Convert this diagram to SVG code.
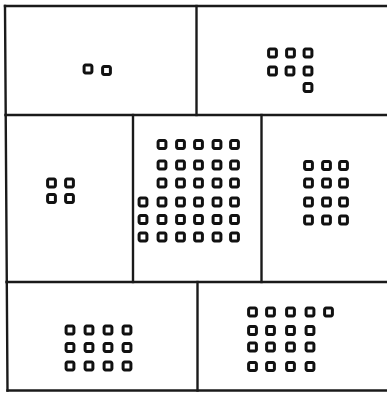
<svg xmlns="http://www.w3.org/2000/svg" xmlns:xlink="http://www.w3.org/1999/xlink" width="387" height="394" viewBox="0 0 387 394">
<style>
.ln{stroke:#1a1a1a;stroke-width:2.4;fill:none;stroke-linecap:square}
.sq{fill:#fff;stroke:#111;stroke-width:3}
</style>
<defs>
<rect id="s" x="-3.9" y="-3.9" width="7.8" height="7.8" rx="1.4"/>
</defs>
<rect width="387" height="394" fill="#fff"/>
<g id="frame">
<line class="ln" x1="5" y1="6" x2="387" y2="6"/>
<line class="ln" x1="5" y1="6" x2="7.5" y2="390.5"/>
<line class="ln" x1="7.5" y1="390.5" x2="387" y2="390.5"/>
<line class="ln" x1="5.5" y1="115" x2="387" y2="115"/>
<line class="ln" x1="6.5" y1="282" x2="387" y2="282"/>
<line class="ln" x1="196.5" y1="6" x2="196.5" y2="115"/>
<line class="ln" x1="133" y1="115" x2="133" y2="282"/>
<line class="ln" x1="261.5" y1="115" x2="261.5" y2="282"/>
<line class="ln" x1="197.5" y1="282" x2="197.5" y2="390.5"/>
</g>
<g id="cell-top-left" class="sq">
<use xlink:href="#s" x="88" y="69"/><use xlink:href="#s" x="106.5" y="70.5"/>
</g>
<g id="cell-top-right" class="sq">
<use xlink:href="#s" x="272.5" y="53"/><use xlink:href="#s" x="290.5" y="53"/><use xlink:href="#s" x="308" y="53"/>
<use xlink:href="#s" x="272.5" y="71"/><use xlink:href="#s" x="290" y="71"/><use xlink:href="#s" x="308" y="71"/>
<use xlink:href="#s" x="308" y="87.5"/>
</g>
<g id="cell-middle-left" class="sq">
<use xlink:href="#s" x="51.5" y="183"/><use xlink:href="#s" x="69.5" y="183"/>
<use xlink:href="#s" x="51.5" y="198.5"/><use xlink:href="#s" x="69.5" y="198.5"/>
</g>
<g id="cell-middle-center" class="sq">
<use xlink:href="#s" x="162" y="144.5"/><use xlink:href="#s" x="180.5" y="144.5"/><use xlink:href="#s" x="198.5" y="144.5"/><use xlink:href="#s" x="217" y="144.5"/><use xlink:href="#s" x="234.5" y="144.5"/>
<use xlink:href="#s" x="162" y="165"/><use xlink:href="#s" x="180.5" y="165"/><use xlink:href="#s" x="198.5" y="165"/><use xlink:href="#s" x="217" y="165"/><use xlink:href="#s" x="234.5" y="165"/>
<use xlink:href="#s" x="162" y="183"/><use xlink:href="#s" x="180.5" y="183"/><use xlink:href="#s" x="198.5" y="183"/><use xlink:href="#s" x="217" y="183"/><use xlink:href="#s" x="234.5" y="183"/>
<use xlink:href="#s" x="143" y="202"/><use xlink:href="#s" x="162" y="202"/><use xlink:href="#s" x="180.5" y="202"/><use xlink:href="#s" x="198.5" y="202"/><use xlink:href="#s" x="217" y="202"/><use xlink:href="#s" x="234.5" y="202"/>
<use xlink:href="#s" x="143" y="219.5"/><use xlink:href="#s" x="162" y="219.5"/><use xlink:href="#s" x="180.5" y="219.5"/><use xlink:href="#s" x="198.5" y="219.5"/><use xlink:href="#s" x="217" y="219.5"/><use xlink:href="#s" x="234.5" y="219.5"/>
<use xlink:href="#s" x="143" y="237"/><use xlink:href="#s" x="162" y="237"/><use xlink:href="#s" x="180.5" y="237"/><use xlink:href="#s" x="198.5" y="237"/><use xlink:href="#s" x="217" y="237"/><use xlink:href="#s" x="234.5" y="237"/>
</g>
<g id="cell-middle-right" class="sq">
<use xlink:href="#s" x="308.5" y="165.5"/><use xlink:href="#s" x="326.5" y="165.5"/><use xlink:href="#s" x="343.5" y="165.5"/>
<use xlink:href="#s" x="308.5" y="183"/><use xlink:href="#s" x="326.5" y="183"/><use xlink:href="#s" x="343.5" y="183"/>
<use xlink:href="#s" x="308.5" y="202"/><use xlink:href="#s" x="326.5" y="202"/><use xlink:href="#s" x="343.5" y="202"/>
<use xlink:href="#s" x="308.5" y="220"/><use xlink:href="#s" x="326.5" y="220"/><use xlink:href="#s" x="343.5" y="220"/>
</g>
<g id="cell-bottom-left" class="sq">
<use xlink:href="#s" x="70" y="330"/><use xlink:href="#s" x="89" y="330"/><use xlink:href="#s" x="108" y="330"/><use xlink:href="#s" x="127" y="330"/>
<use xlink:href="#s" x="70" y="347.5"/><use xlink:href="#s" x="89" y="347.5"/><use xlink:href="#s" x="108" y="347.5"/><use xlink:href="#s" x="127" y="347.5"/>
<use xlink:href="#s" x="70" y="366"/><use xlink:href="#s" x="89" y="366"/><use xlink:href="#s" x="108" y="366"/><use xlink:href="#s" x="127" y="366"/>
</g>
<g id="cell-bottom-right" class="sq">
<use xlink:href="#s" x="252.5" y="312"/><use xlink:href="#s" x="270.5" y="312"/><use xlink:href="#s" x="290.5" y="312"/><use xlink:href="#s" x="310" y="312"/><use xlink:href="#s" x="328.5" y="312"/>
<use xlink:href="#s" x="252.5" y="330.5"/><use xlink:href="#s" x="270.5" y="330.5"/><use xlink:href="#s" x="290.5" y="330.5"/><use xlink:href="#s" x="310" y="330.5"/>
<use xlink:href="#s" x="252.5" y="347"/><use xlink:href="#s" x="270.5" y="347"/><use xlink:href="#s" x="290.5" y="347"/><use xlink:href="#s" x="310" y="347"/>
<use xlink:href="#s" x="252.5" y="366.5"/><use xlink:href="#s" x="270.5" y="366.5"/><use xlink:href="#s" x="290.5" y="366.5"/><use xlink:href="#s" x="310" y="366.5"/>
</g>
</svg>
